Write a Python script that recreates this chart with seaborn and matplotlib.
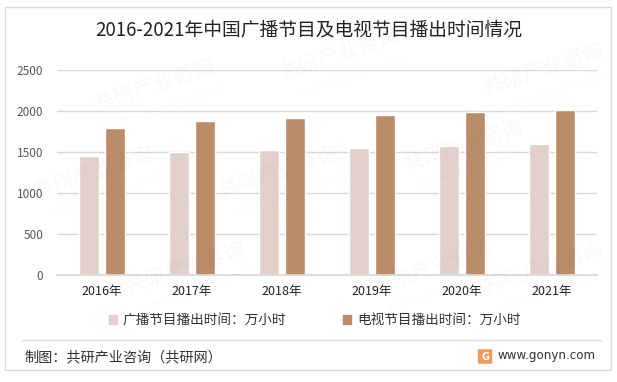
import numpy as np
import pandas as pd
import matplotlib
matplotlib.use("Agg")
import matplotlib.pyplot as plt
from matplotlib.patches import Rectangle, FancyBboxPatch
import seaborn as sns

# ── data ──
years = ["2016年", "2017年", "2018年", "2019年", "2020年", "2021年"]
radio_hours = [1450, 1497, 1528, 1553, 1577, 1592]
tv_hours = [1797, 1882, 1918, 1957, 1990, 2011]
series_names = ["广播节目播出时间：万小时", "电视节目播出时间：万小时"]
y_ticks = [0, 500, 1000, 1500, 2000, 2500]

colors = ["#E2D1CA", "#BA8C6A"]

df = pd.DataFrame({
    "year": years * 2,
    "value": radio_hours + tv_hours,
    "series": [series_names[0]] * len(years) + [series_names[1]] * len(years),
})

sns.set_theme(style="white")
plt.rcParams["font.family"] = ["Noto Sans CJK SC", "DejaVu Sans"]

fig = plt.figure(figsize=(6.17, 3.82), dpi=100)
ax = fig.add_axes([57 / 617, 1 - 275 / 382, 540 / 617, 205 / 382])

sns.barplot(data=df, x="year", y="value", hue="series", palette=colors,
            width=0.58, gap=0.23, ax=ax, legend=False, saturation=1)

ax.set_ylim(0, 2500)
ax.set_yticks(y_ticks)
ax.set_yticklabels([str(t) for t in y_ticks], fontsize=8.5, color="#595959")
ax.set_xlim(-0.5, len(years) - 0.5)
ax.tick_params(axis="x", labelsize=9, labelcolor="#222222", length=0, pad=7)
ax.tick_params(axis="y", length=0, pad=10)
ax.set_xlabel("")
ax.set_ylabel("")
ax.grid(axis="y", color="#D9D9D9", linewidth=1)
ax.set_axisbelow(True)
for s in ["top", "right", "left"]:
    ax.spines[s].set_visible(False)
ax.spines["bottom"].set_color("#D9D9D9")
ax.patch.set_alpha(0)

# legend
handles = [Rectangle((0, 0), 1, 1, color=c) for c in colors]
fig.legend(handles, series_names, loc="center", bbox_to_anchor=(0.51, 1 - 320 / 382),
           ncol=2, frameon=False, fontsize=9.8, handlelength=0.6, handleheight=0.6,
           handletextpad=0.4, columnspacing=4.2, labelcolor="#333333")

# title
fig.text(0.5, 1 - 30 / 382, "2016-2021年中国广播节目及电视节目播出时间情况",
         ha="center", va="center", fontsize=13.5, color="#222222")

# faint watermarks
for (wx, wy) in [(0.25, 0.78), (0.55, 0.86), (0.15, 0.55), (0.45, 0.55),
                 (0.75, 0.62), (0.3, 0.3), (0.7, 0.3), (0.88, 0.82), (0.88, 0.3)]:
    fig.text(wx, wy, "共研产业咨询", fontsize=15, fontweight="bold", color="#000000",
             alpha=0.025, rotation=18, ha="center", va="center")
    fig.text(wx + 0.02, wy - 0.06, "w w w . g o n y n . c o m", fontsize=8,
             color="#000000", alpha=0.025, rotation=18, ha="center", va="center")

# outer border and footer
fig.patches.append(Rectangle((5 / 617, 1 - 370 / 382), 606 / 617, 363 / 382,
                             transform=fig.transFigure, fill=False,
                             edgecolor="#D9D9D9", linewidth=1))
fig.lines.append(plt.Line2D([22 / 617, 601 / 617], [1 - 340 / 382] * 2,
                            transform=fig.transFigure, color="#D9D9D9", linewidth=1))
fig.text(24 / 617, 1 - 357 / 382, "制图：共研产业咨询（共研网）", fontsize=10.2,
         color="#333333", ha="left", va="center")
fig.text(497 / 617, 1 - 356 / 382, "www.gonyn.com", fontsize=8.6,
         color="#333333", ha="left", va="center", family="DejaVu Sans")
fig.patches.append(FancyBboxPatch((479 / 617, 1 - 363 / 382), 12 / 617, 13 / 382,
                                  boxstyle="round,pad=0.002", transform=fig.transFigure,
                                  facecolor="#F29A5C", edgecolor="none"))
fig.text(485 / 617, 1 - 356.5 / 382, "G", fontsize=7, fontweight="bold",
         color="white", ha="center", va="center", family="DejaVu Sans")

fig.savefig("out.png", dpi=100)
